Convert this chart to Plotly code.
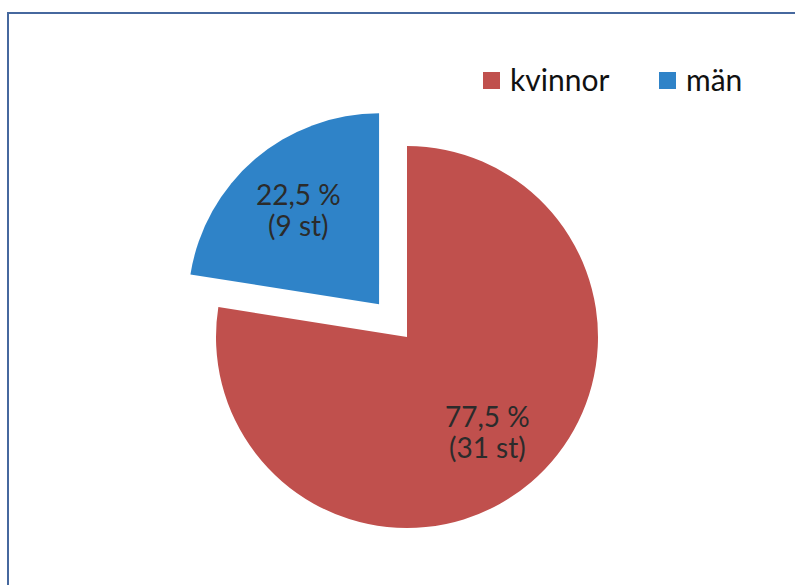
import math
import plotly.graph_objects as go

# Gender split of respondents
labels = ["kvinnor", "män"]
counts = [31, 9]
colors = ["#C0504D", "#2F83C8"]
pulls = [0, 0.225]

total = sum(counts)
percents = [c / total * 100 for c in counts]

W, H = 795, 585

# Pie layout in pixels: centre of the unpulled pie and its radius
CX, CY, R = 407, 337, 191
HALF = R * (1 + max(pulls))  # plotly shrinks the pie to fit the pulled slice

def px_x(x):
    return x / W

def px_y(y):
    return 1 - y / H

fig = go.Figure(
    go.Pie(
        labels=labels,
        values=counts,
        textinfo="none",
        marker=dict(colors=colors, line=dict(width=0)),
        pull=pulls,
        sort=False,
        direction="clockwise",
        rotation=0,
        hoverinfo="label+value+percent",
        showlegend=False,
        domain=dict(
            x=[px_x(CX - HALF), px_x(CX + HALF)],
            y=[px_y(CY + HALF), px_y(CY - HALF)],
        ),
    )
)

# Data labels: placed on each slice's bisector, following its pull
label_font = dict(family="Lato", size=28, color="#2b2b2b")
line_gap = 15.5
start = 0.0
for count, pct, pull in zip(counts, percents, pulls):
    frac = count / total
    theta = 2 * math.pi * (start + frac / 2)   # clockwise from 12 o'clock
    start += frac
    dist = R * (pull + 0.65)
    lx = CX + dist * math.sin(theta)
    ly = CY - dist * math.cos(theta)
    pct_text = f"{pct:.1f}".replace(".", ",") + " %"
    for text, dy in ((pct_text, -line_gap), (f"({count} st)", line_gap)):
        fig.add_annotation(
            x=px_x(lx), y=px_y(ly + dy), xref="paper", yref="paper",
            text=text, showarrow=False, font=label_font,
            xanchor="center", yanchor="middle",
        )

# Legend: colour square followed by the category name
legend_left = [483, 659]
legend_top, swatch = 72, 17
for name, color, x0 in zip(labels, colors, legend_left):
    fig.add_shape(
        type="rect", xref="paper", yref="paper",
        x0=px_x(x0), x1=px_x(x0 + swatch),
        y0=px_y(legend_top + swatch), y1=px_y(legend_top),
        fillcolor=color, line=dict(width=0),
    )
    fig.add_annotation(
        x=px_x(x0 + swatch + 8), y=px_y(legend_top + swatch / 2 - 1),
        xref="paper", yref="paper", text=name, showarrow=False,
        font=dict(family="Lato", size=30, color="#111111"),
        xanchor="left", yanchor="middle",
    )

# Frame edges along the top and left of the chart area
frame = dict(color="#46689E", width=2)
fig.add_shape(type="line", xref="paper", yref="paper",
              x0=px_x(7), x1=1, y0=px_y(13), y1=px_y(13), line=frame)
fig.add_shape(type="line", xref="paper", yref="paper",
              x0=px_x(8), x1=px_x(8), y0=0, y1=px_y(12), line=frame)

fig.update_layout(
    width=W, height=H,
    margin=dict(l=0, r=0, t=0, b=0),
    paper_bgcolor="white",
    plot_bgcolor="white",
)

fig.write_html(
    "out.html",
    config={"displayModeBar": False},
    post_script="document.body.style.margin='0';document.body.style.overflow='hidden';",
)
